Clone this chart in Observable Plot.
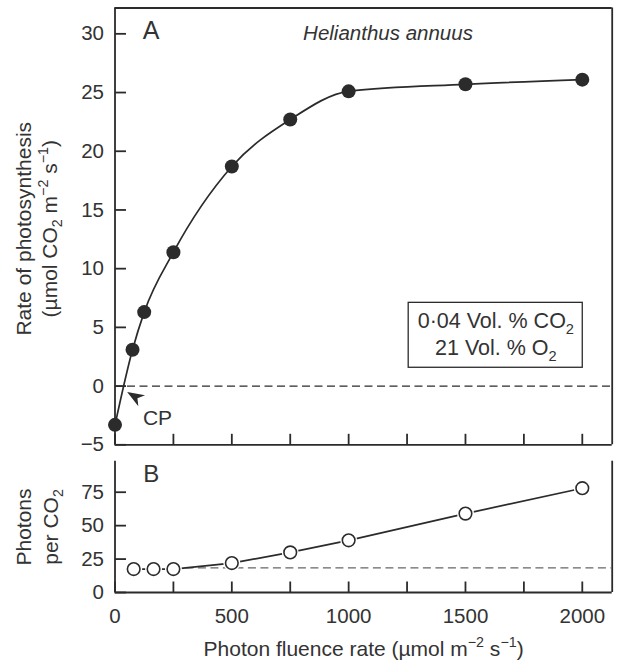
<!DOCTYPE html>
<html><head><meta charset="utf-8">
<script src="https://cdn.jsdelivr.net/npm/d3@7"></script>
<script src="https://cdn.jsdelivr.net/npm/@observablehq/plot@0.6"></script>
<style>
html,body{margin:0;padding:0;background:#fff;}
#chart{width:622px;height:663px;position:relative;}
#chart svg{display:block;}
</style></head><body><div id="chart"></div>
<script>
// ---------- data ----------
// Panel A: net photosynthesis vs photon fluence rate
const photonA = [0, 75, 125, 250, 500, 750, 1000, 1500, 2000];
const rateA   = [-3.3, 3.1, 6.3, 11.4, 18.7, 22.7, 25.1, 25.7, 26.1];
// Panel B: photons required per CO2 fixed
const photonB        = [80, 165, 250, 500, 750, 1000, 1500, 2000];
const photonsPerCO2  = [17.5, 17.5, 17.5, 22, 30, 39, 59, 78];
const minRequirement = [18.4];
// ticks
const xTicks      = [0, 250, 500, 750, 1000, 1250, 1500, 1750, 2000];
const xTickLabels = [0, 500, 1000, 1500, 2000];
const yTicksA     = [-5, 0, 5, 10, 15, 20, 25, 30];
const yTicksB     = [0, 25, 50, 75];
const xDomain  = [0, 2128];
const yDomainA = [-5, 32.2];
const yDomainB = [0, 98.2];

const dataA = photonA.map((x, i) => ({x, y: rateA[i]}));
const dataB = photonB.map((x, i) => ({x, y: photonsPerCO2[i]}));

const INK = "#2b2b2b", TXT = "#333";
const FONT = '"Liberation Sans", Arial, Helvetica, sans-serif';
const baseStyle = {fontFamily: FONT, fontSize: "20.5px", color: TXT, background: "white", overflow: "visible"};
const fmt = d3.format("d");

// filled dart arrowhead (tip at origin, pointing up-left)
const dart = {
  draw(ctx) {
    const d = [0.856, 0.518], p = [-0.518, 0.856];
    const pt = (u, v) => [u * d[0] + v * p[0], u * d[1] + v * p[1]];
    const pts = [pt(0, 0), pt(17, 6.5), pt(12, 0), pt(17, -6.5)];
    ctx.moveTo(pts[0][0], pts[0][1]);
    for (let i = 1; i < pts.length; i++) ctx.lineTo(pts[i][0], pts[i][1]);
    ctx.closePath();
  }
};
// inward tick symbols
const tickRight = {draw(ctx) { ctx.moveTo(0, 0); ctx.lineTo(11, 0); }};
const tickUp    = {draw(ctx) { ctx.moveTo(0, 0); ctx.lineTo(0, -11); }};
const tickStyle = {stroke: INK, strokeWidth: 1.8, fill: "none", r: 5};

const plotA = Plot.plot({
  width: 622, height: 452,
  marginLeft: 114.5, marginRight: 10.3, marginTop: 7.5, marginBottom: 7.7,
  style: baseStyle,
  x: {domain: xDomain, axis: null},
  y: {domain: yDomainA},
  marks: [
    Plot.ruleY([0], {stroke: INK, strokeWidth: 1.3, strokeDasharray: "8,4.5"}),
    Plot.ruleX(xDomain, {stroke: INK, strokeWidth: 1.8}),
    Plot.ruleY(yDomainA, {stroke: INK, strokeWidth: 1.8}),
    Plot.dot(xTicks, {x: d => d, frameAnchor: "bottom", symbol: tickUp, ...tickStyle}),
    Plot.dot(yTicksA, {y: d => d, frameAnchor: "left", symbol: tickRight, ...tickStyle}),
    Plot.axisY({ticks: yTicksA, tickSize: 0, tickPadding: 11, label: null, fill: TXT, fontSize: 20.5}),
    Plot.line(dataA, {x: "x", y: "y", curve: "monotone-x", stroke: INK, strokeWidth: 1.7}),
    Plot.dot(dataA, {x: "x", y: "y", r: 7, fill: INK, stroke: "none"}),
    Plot.rect([0], {x1: 1257, x2: 2002, y1: 1.56, y2: 7.09, fill: "white", stroke: INK, strokeWidth: 1.3}),
    Plot.text(["0·04 Vol. % CO{_2}"], {x: 1630, y: 5.5, fontSize: 21.5, fill: TXT}),
    Plot.text(["21 Vol. % O{_2}"], {x: 1630, y: 3.2, fontSize: 21.5, fill: TXT}),
    Plot.text(["A"], {x: 155, y: 30.2, fontSize: 25, fill: TXT}),
    Plot.text(["Helianthus annuus"], {x: 805, y: 30, textAnchor: "start", fontStyle: "italic", fontSize: 20.5, fill: TXT}),
    Plot.text(["CP"], {x: 182, y: -2.75, fontSize: 21, fill: TXT}),
    Plot.dot([0], {x: 52, y: -0.5, r: 5, symbol: dart, fill: INK, stroke: "none"}),
    Plot.text(["Rate of photosynthesis"], {frameAnchor: "left", y: 13.4, dx: -91.2, rotate: -90, textAnchor: "middle", lineAnchor: "middle", fontSize: 21, fill: TXT}),
    Plot.text(["(µmol CO{_2} m{^−2} s{^−1})"], {frameAnchor: "left", y: 13.4, dx: -65, rotate: -90, textAnchor: "middle", lineAnchor: "middle", fontSize: 21, fill: TXT})
  ]
});

const plotB = Plot.plot({
  width: 622, height: 211,
  marginLeft: 114.5, marginRight: 10.3, marginTop: 8.7, marginBottom: 71,
  style: baseStyle,
  x: {domain: xDomain},
  y: {domain: yDomainB},
  marks: [
    Plot.ruleX(xDomain, {stroke: INK, strokeWidth: 1.8}),
    Plot.ruleY([yDomainB[0]], {stroke: INK, strokeWidth: 1.8}),
    Plot.dot(xTicks, {x: d => d, frameAnchor: "bottom", symbol: tickUp, ...tickStyle}),
    Plot.dot(yTicksB, {y: d => d, frameAnchor: "left", symbol: tickRight, ...tickStyle}),
    Plot.axisX({ticks: xTickLabels, tickSize: 0, tickPadding: 16.3, tickFormat: fmt, label: null, fill: TXT, fontSize: 20.5}),
    Plot.axisY({ticks: yTicksB, tickSize: 0, tickPadding: 11, label: null, fill: TXT, fontSize: 20.5}),
    Plot.ruleY(minRequirement, {x1: 250, x2: xDomain[1], stroke: "#666", strokeWidth: 1.3, strokeDasharray: "8,4.5"}),
    Plot.line(dataB, {x: "x", y: "y", stroke: INK, strokeWidth: 1.7}),
    Plot.dot(dataB, {x: "x", y: "y", r: 8.5, fill: "white", stroke: "none"}),
    Plot.dot(dataB, {x: "x", y: "y", r: 6.3, fill: "white", stroke: INK, strokeWidth: 1.6}),
    Plot.text(["B"], {x: 155, y: 88.5, fontSize: 24, fill: TXT}),
    Plot.text(["Photons"], {frameAnchor: "left", y: 49, dx: -91.2, rotate: -90, textAnchor: "middle", lineAnchor: "middle", fontSize: 21, fill: TXT}),
    Plot.text(["per CO{_2}"], {frameAnchor: "left", y: 49, dx: -63.5, rotate: -90, textAnchor: "middle", lineAnchor: "middle", fontSize: 21, fill: TXT}),
    Plot.text(["Photon fluence rate (µmol m{^−2} s{^−1})"], {frameAnchor: "bottom", dy: 57, textAnchor: "middle", lineAnchor: "middle", fontSize: 21, fill: TXT})
  ]
});

const root = document.getElementById("chart");
root.appendChild(plotA);
root.appendChild(plotB);

// turn {_x} / {^x} markup into sub/superscript tspans
function richify(svg) {
  const NS = "http://www.w3.org/2000/svg";
  svg.querySelectorAll("text").forEach(t => {
    const s = t.textContent;
    if (!/\{[_^]/.test(s)) return;
    const fs = parseFloat(getComputedStyle(t).fontSize) || 20;
    while (t.firstChild) t.removeChild(t.firstChild);
    const re = /\{([_^])([^}]*)\}/g;
    let last = 0, m, cur = 0;
    const add = (str, target, small) => {
      if (!str) return;
      const ts = document.createElementNS(NS, "tspan");
      ts.textContent = str;
      const dy = target - cur;
      if (dy) ts.setAttribute("dy", dy.toFixed(2));
      if (small) ts.setAttribute("font-size", (fs * 0.68).toFixed(2));
      cur = target;
      t.appendChild(ts);
    };
    while ((m = re.exec(s))) {
      add(s.slice(last, m.index), 0, false);
      add(m[2], m[1] === "^" ? -0.42 * fs : 0.24 * fs, true);
      last = re.lastIndex;
    }
    add(s.slice(last), 0, false);
  });
}
richify(plotA);
richify(plotB);
</script>
</body></html>
